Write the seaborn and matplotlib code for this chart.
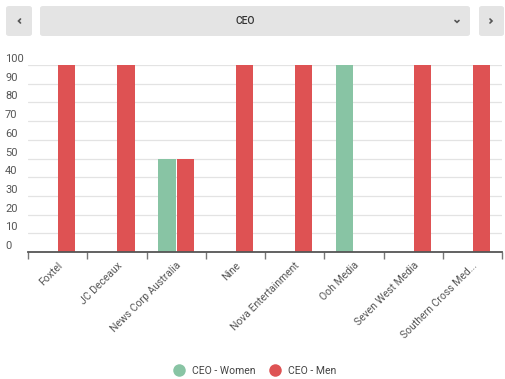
import matplotlib
matplotlib.use("Agg")
import matplotlib.pyplot as plt
import matplotlib.transforms as mtrans
from matplotlib.patches import FancyBboxPatch
from matplotlib.lines import Line2D
import seaborn as sns
import pandas as pd

companies = ["Foxtel", "JC Deceaux", "News Corp Australia", "Nine",
             "Nova Entertainment", "Ooh Media", "Seven West Media",
             "Southern Cross Med..."]
women = [0, 0, 50, 0, 0, 100, 0, 0]
men = [100, 100, 50, 100, 100, 0, 100, 100]
series = ["CEO - Women", "CEO - Men"]
colors = ["#88C4A4", "#DE5253"]
yticks = [0, 10, 20, 30, 40, 50, 60, 70, 80, 90, 100]

df = pd.DataFrame({
    "company": companies * 2,
    "value": women + men,
    "series": [series[0]] * len(companies) + [series[1]] * len(companies),
})

sns.set_style("white")
plt.rcParams["font.family"] = ["Roboto", "DejaVu Sans"]

W, H = 505, 379
fig = plt.figure(figsize=(W / 100, H / 100), dpi=100)
ax = fig.add_axes([28 / W, 1 - 252 / H, 474 / W, 187 / H])

sns.barplot(data=df, x="company", y="value", hue="series", order=companies,
            hue_order=series, palette=colors, width=0.62, gap=0.06,
            linewidth=0, saturation=1, ax=ax, legend=False)

ax.set_xlim(-0.5, len(companies) - 0.5)
ax.set_ylim(0, 100)
ax.set_xlabel("")
ax.set_ylabel("")
for s in ["top", "right", "left"]:
    ax.spines[s].set_visible(False)
ax.spines["bottom"].set_color("#555555")
ax.spines["bottom"].set_linewidth(1.3)

# grid
ax.set_yticks(yticks)
ax.yaxis.grid(True, color="#E3E3E3", linewidth=0.9)
ax.set_axisbelow(True)
ax.tick_params(axis="y", length=0, pad=23 * 0.72, labelsize=8, labelcolor="#555555")
ax.set_yticklabels([str(v) for v in yticks])
off = mtrans.ScaledTranslation(0, 7 / 100, fig.dpi_scale_trans)
for lab in ax.get_yticklabels():
    lab.set_horizontalalignment("left")
    lab.set_transform(lab.get_transform() + off)

# x ticks: labels at centers, tick marks at boundaries
ax.set_xticks(range(len(companies)))
ax.set_xticklabels(companies, rotation=45, ha="right", rotation_mode="anchor",
                   fontsize=7.5, color="#555555")
ax.tick_params(axis="x", which="major", length=0, pad=6)
ax.set_xticks([i - 0.5 for i in range(len(companies) + 1)], minor=True)
ax.tick_params(axis="x", which="minor", bottom=True, length=5, width=1,
               color="#777777", direction="out")

# header controls
def box(x0, y0, x1, y1):
    p = FancyBboxPatch((x0 / W, 1 - y1 / H), (x1 - x0) / W, (y1 - y0) / H,
                       boxstyle="round,pad=0,rounding_size=0.006",
                       transform=fig.transFigure, facecolor="#E4E4E4",
                       edgecolor="none")
    fig.patches.append(p)

def chevron(xs, ys):
    fig.lines.append(Line2D([x / W for x in xs], [1 - y / H for y in ys],
                            transform=fig.transFigure, color="#555555",
                            linewidth=1.2, solid_capstyle="round",
                            solid_joinstyle="miter"))

box(6, 6, 32, 36)
box(40, 6, 470, 36)
box(479, 6, 504, 36)
chevron([20.5, 18.5, 20.5], [19, 21, 23])
chevron([490, 492, 490], [19, 21, 23])
chevron([455, 457, 459], [20.5, 22.3, 20.5])
fig.text(245 / W, 1 - 21 / H, "CEO", ha="center", va="center", fontsize=7.5,
         color="#333333", fontweight="medium")

handles = [Line2D([], [], marker="o", linestyle="none", markersize=9,
                  markerfacecolor=c, markeredgecolor="none") for c in colors]
fig.legend(handles, series, loc="center", bbox_to_anchor=(0.5, 1 - 371 / H),
           ncol=2, frameon=False, fontsize=7.5, handletextpad=0.3,
           columnspacing=0.8, labelcolor="#444444")

fig.savefig("out.png", dpi=100)
